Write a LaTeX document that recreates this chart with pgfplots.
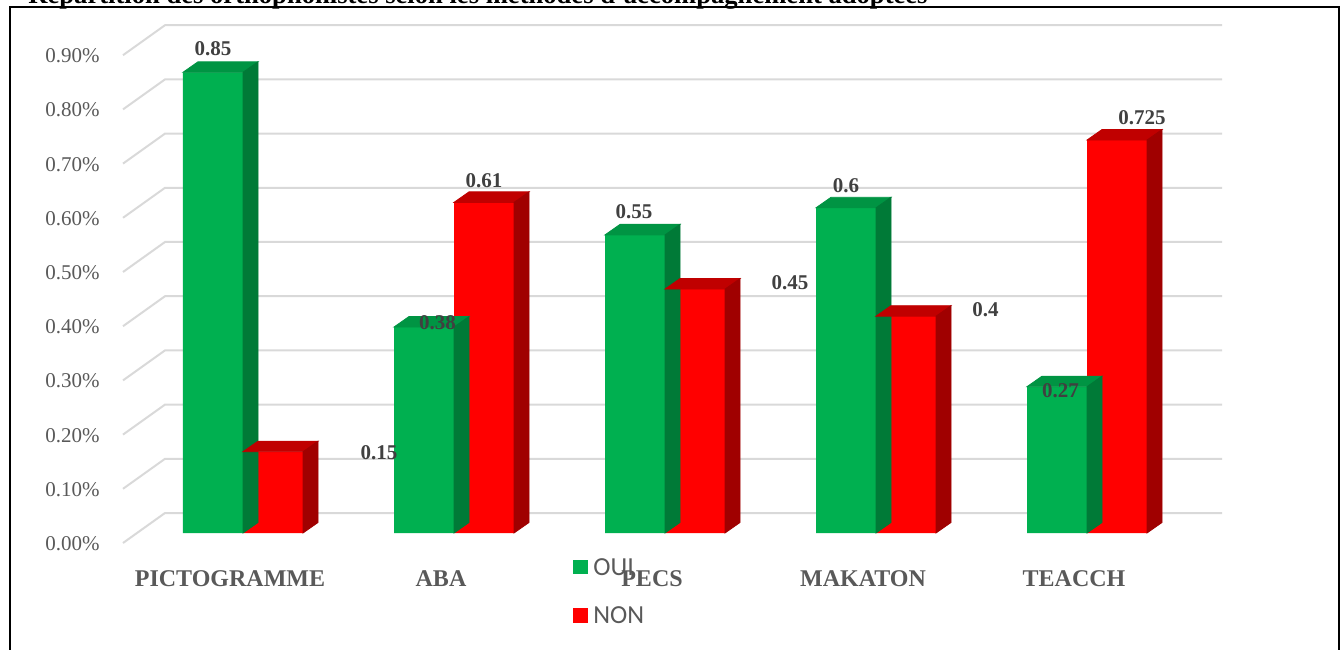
\documentclass[border=0pt]{standalone}
\usepackage{pgfplots}
\usepackage{pgfplotstable}
\pgfplotsset{compat=1.18}
\usepackage{fontspec}
\setmainfont{Liberation Serif}
\newfontfamily\legendfont{Carlito}

\definecolor{gfront}{HTML}{00B050}
\definecolor{gtop}{HTML}{009443}
\definecolor{gside}{HTML}{007A37}
\definecolor{rfront}{HTML}{FF0000}
\definecolor{rtop}{HTML}{C00000}
\definecolor{rside}{HTML}{A00000}
\definecolor{gridgray}{HTML}{D9D9D9}
\definecolor{tickgray}{HTML}{595959}
\definecolor{valgray}{HTML}{404040}

% empty mark: the scatter layers only draw faces or labels
\pgfdeclareplotmark{blank}{}

% x = category, v = share, dx/dy = label offset from the bar top in pt
\pgfplotstableread{
x v dx dy
0 0.85 0 12
1 0.38 6.75 2
2 0.55 -0.5 11.5
3 0.6 0 11.15
4 0.27 1.75 -2
}\oui
\pgfplotstableread{
x v dx dy
0 0.15 53 -0.5
1 0.61 0 11
2 0.45 47.5 3
3 0.4 39.75 3.5
4 0.725 12.5 11
}\non

\begin{document}
\begin{tikzpicture}
% back-wall grid with its slanted left return
\begin{scope}[x=0.5pt,y=-0.5pt,shift={(0pt,324.5pt)}]
  \foreach \k in {0,...,9}{
    \draw[gridgray,line width=1pt]
      (123,{543-54.2*\k}) -- (165,{513-54.2*\k}) -- (1222,{513-54.2*\k});
  }
\end{scope}

\begin{axis}[
  at={(61.5pt,53pt)}, anchor=south west,
  scale only axis, width=549.5pt, height=258.5pt,
  xmin=-0.5687, xmax=4.6398, ymin=-0.01845, ymax=0.9354,
  clip=false,
  axis line style={draw=none}, tick style={draw=none},
  xtick={0,1,2,3,4},
  xticklabels={PICTOGRAMME,ABA,PECS,MAKATON,TEACCH},
  xticklabel style={font=\bfseries\fontsize{12}{14}\selectfont, text=tickgray,
    anchor=center, inner sep=0pt, xshift=-6.5pt, yshift=-17.75pt},
  ytick={0,0.1,0.2,0.3,0.4,0.5,0.6,0.7,0.8,0.9},
  yticklabels={0.00\%,0.10\%,0.20\%,0.30\%,0.40\%,0.50\%,0.60\%,0.70\%,0.80\%,0.90\%},
  yticklabel style={font=\fontsize{10.5}{12}\selectfont, text=tickgray,
    anchor=east, inner sep=0pt, xshift=-11.5pt, yshift=-5.3pt},
  /pgf/number format/assume math mode=true,
  /pgf/number format/precision=3,
  faces/.style n args={3}{only marks, mark=blank, scatter,
    visualization depends on={rawy\as\barv},
    scatter/@pre marker code/.code={%
      \pgfkeys{/pgf/fpu=false}%
      \pgfmathsetmacro\hh{\barv*271}%
      \fill[#2] (#1-30pt,0pt) -- (#1-22.5pt,5.25pt) -- (#1+7.5pt,5.25pt) -- (#1,0pt) -- cycle;
      \fill[#3] (#1,0pt) -- (#1+7.5pt,5.25pt) -- (#1+7.5pt,5.25pt-\hh pt) -- (#1,-\hh pt) -- cycle;
    },
    scatter/@post marker code/.code={}},
  value labels/.style={only marks, mark=blank,
    nodes near coords={\pgfmathprintnumber{\pgfplotspointmeta}},
    nodes near coords style={anchor=center, inner sep=0pt,
      font=\bfseries\fontsize{10.5}{12}\selectfont, text=valgray}},
]
% OUI: top and right faces, then front
\addplot[faces={0pt}{gtop}{gside}] table[x=x,y=v]{\oui};
\addplot[ybar, bar width=30pt, bar shift=-15pt, fill=gfront, draw=none]
  table[x=x,y=v]{\oui};
% NON: top and right faces, then front
\addplot[faces={30pt}{rtop}{rside}] table[x=x,y=v]{\non};
\addplot[ybar, bar width=30pt, bar shift=15pt, fill=rfront, draw=none]
  table[x=x,y=v]{\non};
% value labels, offset from the top of each bar
\addplot[value labels, point meta=\thisrow{v}]
  table[x expr={\thisrow{x}+(\thisrow{dx}-15)/105.5}, y expr={\thisrow{v}+\thisrow{dy}/271}]{\oui};
\addplot[value labels, point meta=\thisrow{v}]
  table[x expr={\thisrow{x}+(\thisrow{dx}+15)/105.5}, y expr={\thisrow{v}+\thisrow{dy}/271}]{\non};
\end{axis}

\begin{scope}[x=0.5pt,y=-0.5pt,shift={(0pt,324.5pt)}]
  % title, partly above the page edge
  \node[anchor=base west, inner sep=0pt, font=\bfseries\fontsize{13.3}{15}\selectfont]
    at (28,4) {Répartition des orthophonistes selon les méthodes d'accompagnement adoptées};
  % frame
  \draw[black,line width=1pt] (10,660) -- (10,7.5) -- (1339,7.5) -- (1339,660);
  % legend
  \fill[gfront] (573,560) rectangle (588,574);
  \fill[rfront] (573,608) rectangle (588,623);
  \node[anchor=west, inner sep=0pt, font=\legendfont\fontsize{13}{15}\selectfont, text=tickgray]
    at (593,567) {OUI};
  \node[anchor=west, inner sep=0pt, font=\legendfont\fontsize{13}{15}\selectfont, text=tickgray]
    at (593,615.5) {NON};
\end{scope}

\pgfresetboundingbox
\useasboundingbox (0pt,0pt) rectangle (671.5pt,324.5pt);
\end{tikzpicture}
\end{document}
